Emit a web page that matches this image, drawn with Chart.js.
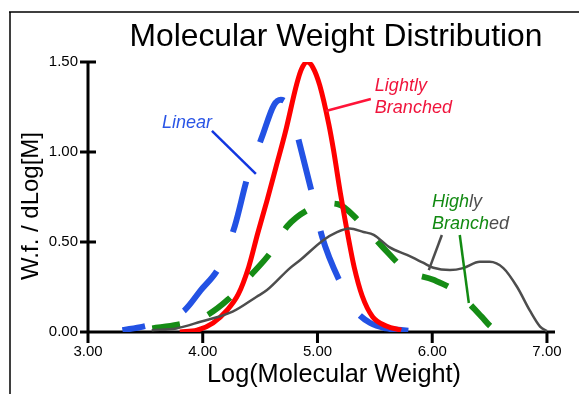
<!DOCTYPE html>
<html>
<head>
<meta charset="utf-8">
<script src="https://cdn.jsdelivr.net/npm/chart.js@4"></script>
<style>
  html, body { margin: 0; padding: 0; background: #fff; }
  #wrap { width: 579px; height: 394px; }
</style>
</head>
<body>
<div id="wrap"><canvas id="mwd" width="579" height="394"></canvas></div>
<script>
// Log(M) / W.f. readings per curve
const linearX = [3.30, 3.48, 3.65, 3.84, 3.98, 4.15, 4.28, 4.39, 4.52, 4.62, 4.68, 4.76, 4.85, 4.96, 5.04, 5.21, 5.33, 5.46, 5.60, 5.75, 5.91];
const linearY = [0.01, 0.03, 0.06, 0.12, 0.23, 0.37, 0.59, 0.86, 1.09, 1.26, 1.29, 1.24, 1.03, 0.75, 0.53, 0.26, 0.12, 0.05, 0.02, 0.01, 0.00];

const lightX = [3.80, 3.95, 4.09, 4.21, 4.31, 4.40, 4.48, 4.56, 4.64, 4.72, 4.82, 4.86, 4.91, 4.96, 5.02, 5.10, 5.14, 5.20, 5.27, 5.32, 5.39, 5.48, 5.60, 5.73];
const lightY = [0.00, 0.01, 0.05, 0.12, 0.21, 0.36, 0.55, 0.73, 0.92, 1.11, 1.38, 1.46, 1.50, 1.47, 1.37, 1.15, 1.01, 0.77, 0.52, 0.36, 0.20, 0.085, 0.033, 0.01];

const highX = [3.56, 3.78, 4.00, 4.22, 4.41, 4.59, 4.74, 4.95, 5.07, 5.18, 5.37, 5.57, 5.78, 6.01, 6.22, 6.43, 6.52, 6.62];
const highY = [0.02, 0.04, 0.08, 0.18, 0.31, 0.44, 0.59, 0.69, 0.715, 0.71, 0.61, 0.47, 0.34, 0.29, 0.22, 0.085, 0.025, 0.00];

const high2X = [3.555, 3.77, 3.98, 4.26, 4.47, 4.56, 4.76, 4.85, 5.05, 5.17, 5.28, 5.40, 5.49, 5.63, 5.78, 5.92, 6.01, 6.155, 6.27, 6.415, 6.50, 6.62, 6.74, 6.85, 6.94, 7.00];
const high2Y = [0.01, 0.02, 0.057, 0.113, 0.196, 0.233, 0.355, 0.40, 0.51, 0.555, 0.575, 0.556, 0.54, 0.47, 0.428, 0.385, 0.357, 0.344, 0.355, 0.39, 0.39, 0.355, 0.25, 0.12, 0.03, 0.005];

const xTicks = [3, 4, 5, 6, 7];
const yTicks = [0, 0.5, 1.0, 1.5];

const FONT = '"Liberation Sans", Arial, sans-serif';

function pts(xs, ys) {
  return xs.map((x, i) => ({ x: x, y: ys[i] }));
}

// axes, tick marks, frame, titles and curve labels
const decor = {
  id: 'decor',
  beforeDatasetsDraw(chart) {
    const c = chart.ctx, xs = chart.scales.x, ys = chart.scales.y;
    const x0 = chart.chartArea.left, y0 = ys.getPixelForValue(0);
    c.save();
    c.strokeStyle = '#000';
    c.lineWidth = 1.5;
    c.beginPath();
    c.moveTo(9, 12); c.lineTo(579, 12);
    c.moveTo(10, 12); c.lineTo(10, 394);
    c.stroke();

    c.lineWidth = 3;
    c.lineCap = 'butt';
    c.beginPath();
    c.moveTo(x0, ys.getPixelForValue(1.5) - 1.5);
    c.lineTo(x0, y0);
    c.moveTo(x0, y0);
    c.lineTo(chart.chartArea.right, y0);
    yTicks.forEach(v => {
      const p = ys.getPixelForValue(v);
      c.moveTo(x0 - 8, p); c.lineTo(x0 + 8, p);
    });
    xTicks.forEach(v => {
      const p = xs.getPixelForValue(v);
      c.moveTo(p, y0); c.lineTo(p, y0 + 11);
    });
    c.stroke();
    c.restore();
  },
  afterDraw(chart) {
    const c = chart.ctx, xs = chart.scales.x, ys = chart.scales.y;
    const X = v => xs.getPixelForValue(v), Y = v => ys.getPixelForValue(v);
    c.save();
    c.fillStyle = '#000';
    c.textAlign = 'center';
    c.textBaseline = 'alphabetic';
    c.font = '31.8px ' + FONT;
    c.fillText('Molecular Weight Distribution', 336, 46);
    c.font = '25.3px ' + FONT;
    c.fillText('Log(Molecular Weight)', 334, 382);
    c.save();
    c.translate(38, 206);
    c.rotate(-Math.PI / 2);
    c.font = '24px ' + FONT;
    c.fillText('W.f. / dLog[M]', 0, 0);
    c.restore();

    // leader lines
    c.lineWidth = 2.5;
    const seg = (col, a, b, d, e) => {
      c.strokeStyle = col;
      c.beginPath(); c.moveTo(X(a), Y(b)); c.lineTo(X(d), Y(e)); c.stroke();
    };
    seg('#1236e0', 4.08, 1.117, 4.463, 0.878);
    seg('#ff1438', 5.073, 1.228, 5.465, 1.294);
    seg('#4d4d4d', 6.084, 0.539, 5.970, 0.344);
    seg('#128a12', 6.240, 0.539, 6.319, 0.161);

    c.textAlign = 'left';
    c.font = 'italic 18px ' + FONT;
    c.fillStyle = '#2a55e6';
    c.fillText('Linear', X(3.645), Y(1.133));
    c.fillStyle = '#f0143c';
    c.fillText('Lightly', X(5.50), Y(1.339));
    c.fillText('Branched', X(5.50), Y(1.217));

    // "Highly Branched" is split between the two highly branched curves
    const mixed = (parts, x, y) => {
      let px = x;
      parts.forEach(([txt, col]) => {
        c.fillStyle = col;
        c.fillText(txt, px, y);
        px += c.measureText(txt).width;
      });
    };
    mixed([['High', '#128a12'], ['ly', '#4d4d4d']], X(5.997), Y(0.694));
    mixed([['Branch', '#128a12'], ['ed', '#4d4d4d']], X(5.997), Y(0.572));
    c.restore();
  }
};

new Chart(document.getElementById('mwd'), {
  type: 'line',
  data: {
    datasets: [
      {
        label: 'Highly Branched (2)',
        data: pts(high2X, high2Y),
        borderColor: '#4d4d4d',
        borderWidth: 2.5,
        order: 1
      },
      {
        label: 'Lightly Branched',
        data: pts(lightX, lightY),
        borderColor: '#ff0000',
        borderWidth: 5,
        order: 2
      },
      {
        label: 'Highly Branched',
        data: pts(highX, highY),
        borderColor: '#158c15',
        borderWidth: 6,
        borderDash: [28, 30],
        borderDashOffset: 0,
        order: 3
      },
      {
        label: 'Linear',
        data: pts(linearX, linearY),
        borderColor: '#2352e4',
        borderWidth: 6,
        borderDash: [52, 42],
        borderDashOffset: 29,
        order: 4
      }
    ]
  },
  options: {
    responsive: false,
    animation: false,
    layout: { padding: { top: 62, right: 24, left: 0, bottom: 0 } },
    elements: {
      point: { radius: 0 },
      line: { cubicInterpolationMode: 'monotone', borderCapStyle: 'butt', fill: false }
    },
    plugins: {
      legend: { display: false },
      title: { display: false },
      tooltip: { enabled: false }
    },
    scales: {
      x: {
        type: 'linear',
        min: 3,
        max: 7.07,
        afterBuildTicks: s => { s.ticks = xTicks.map(v => ({ value: v })); },
        afterFit: s => { s.height = 62; },
        grid: { display: false, drawTicks: false },
        border: { display: false },
        ticks: {
          color: '#000',
          padding: 11,
          maxRotation: 0,
          font: { family: FONT, size: 15 },
          callback: v => v.toFixed(2)
        }
      },
      y: {
        type: 'linear',
        min: 0,
        max: 1.5,
        afterBuildTicks: s => { s.ticks = yTicks.map(v => ({ value: v })); },
        afterFit: s => { s.width = 88; },
        grid: { display: false, drawTicks: false },
        border: { display: false },
        ticks: {
          color: '#000',
          padding: 10,
          font: { family: FONT, size: 15 },
          callback: v => v.toFixed(2)
        }
      }
    }
  },
  plugins: [decor]
});
</script>
</body>
</html>
